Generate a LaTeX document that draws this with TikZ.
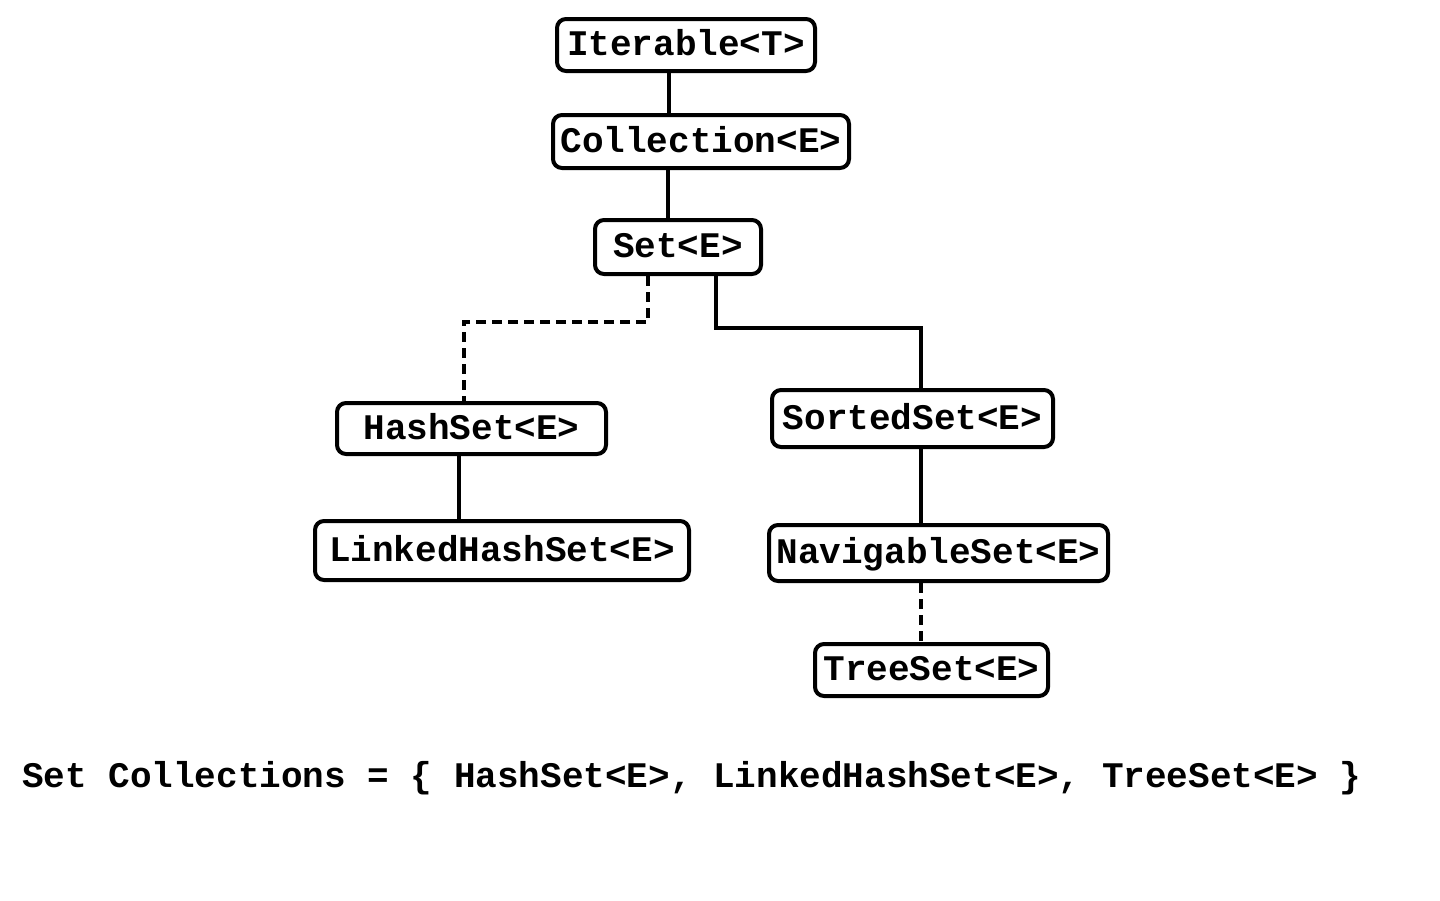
\documentclass[tikz,border=0pt]{standalone}
\usepackage{fontspec}
\setmonofont{Liberation Mono}
\begin{document}
\begin{tikzpicture}[x=1pt,y=-1pt,
  box/.style={draw,line width=4pt,rounded corners=9pt,inner sep=0pt,font=\ttfamily\bfseries\fontsize{36}{40}\selectfont,text height=21pt,text depth=0pt},
  link/.style={line width=3.5pt},
  dlink/.style={line width=3.5pt,dash pattern=on 10pt off 6pt}]
\useasboundingbox (0,0) rectangle (1440,900);
\node[box,minimum width=258pt,minimum height=52pt] (it) at (686,45) {Iterable<T>};
\node[box,minimum width=296pt,minimum height=53pt] (col) at (701,141.5) {Collection<E>};
\node[box,minimum width=166pt,minimum height=54pt] (set) at (678,247) {Set<E>};
\node[box,minimum width=269pt,minimum height=51pt] (hash) at (471.5,428.5) {HashSet<E>};
\node[box,minimum width=281pt,minimum height=57pt] (sorted) at (912.5,418.5) {SortedSet<E>};
\node[box,minimum width=374pt,minimum height=59pt] (linked) at (502,550.5) {LinkedHashSet<E>};
\node[box,minimum width=339pt,minimum height=56pt] (nav) at (938.5,553) {NavigableSet<E>};
\node[box,minimum width=233pt,minimum height=52pt] (tree) at (931.5,670) {TreeSet<E>};
\draw[link] ([xshift=-17pt]it.south) -- ([xshift=-32pt]col.north);
\draw[link] ([xshift=-33pt]col.south) -- ([xshift=-10pt]set.north);
\draw[dlink] ([xshift=-30pt]set.south) -- ++(0,46) -| ([xshift=-7.5pt]hash.north);
\draw[link] ([xshift=38pt]set.south) -- ++(0,52) -| ([xshift=8.5pt]sorted.north);
\draw[link] ([xshift=-12.5pt]hash.south) -- ([xshift=-43pt]linked.north);
\draw[link] ([xshift=8.5pt]sorted.south) -- ([xshift=-17.5pt]nav.north);
\draw[dlink] ([xshift=-17.5pt]nav.south) -- ([xshift=-10.5pt]tree.north);
\node[anchor=base west,inner sep=0pt,font=\ttfamily\bfseries\fontsize{36}{40}\selectfont] (caption) at (22,787) {Set Collections = \{ HashSet<E>, LinkedHashSet<E>, TreeSet<E> \}};
\end{tikzpicture}
\end{document}
